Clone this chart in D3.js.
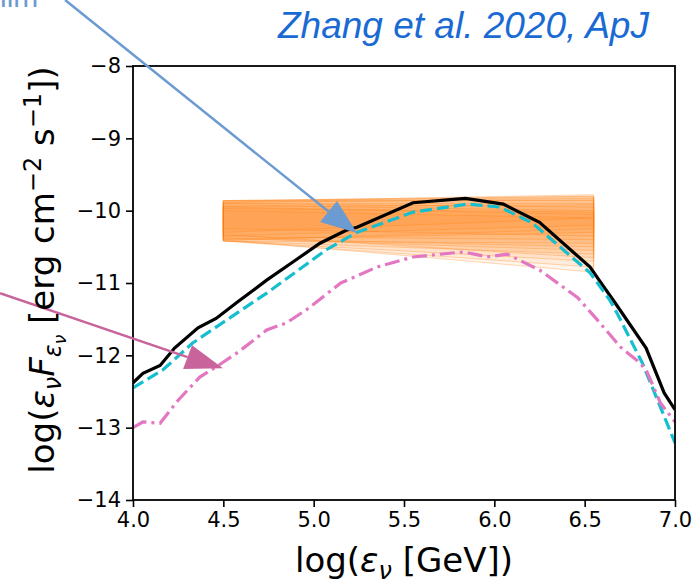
<!DOCTYPE html>
<html>
<head>
<meta charset="utf-8">
<script src="https://cdn.jsdelivr.net/npm/d3@7"></script>
<style>
  body { margin: 0; background: #fff; }
  text { font-family: "DejaVu Sans", sans-serif; }
</style>
</head>
<body>
<div id="chart"></div>
<script>
// axis ticks
var xTicks = [4.0, 4.5, 5.0, 5.5, 6.0, 6.5, 7.0];
var yTicks = [-8, -9, -10, -11, -12, -13, -14];

// black solid curve
var blackX = [4.0, 4.055, 4.15, 4.23, 4.36, 4.46, 4.58, 4.74, 4.885, 5.035, 5.18, 5.24, 5.55, 5.84, 6.05, 6.25, 6.53, 6.58, 6.67, 6.84, 6.94, 7.0];
var blackY = [-12.38, -12.25, -12.14, -11.90, -11.62, -11.49, -11.26, -10.96, -10.71, -10.45, -10.27, -10.23, -9.89, -9.83, -9.91, -10.16, -10.78, -10.96, -11.28, -11.90, -12.52, -12.75];

// cyan dashed curve
var cyanX = [4.0, 4.166, 4.33, 4.46, 4.74, 5.07, 5.24, 5.55, 5.85, 6.03, 6.21, 6.53, 6.64, 6.68, 6.82, 6.92, 7.0];
var cyanY = [-12.45, -12.20, -11.83, -11.61, -11.14, -10.54, -10.30, -10.02, -9.91, -9.95, -10.17, -10.86, -11.24, -11.42, -12.11, -12.72, -13.21];

// pink dash-dot curve
var pinkX = [4.0, 4.055, 4.15, 4.25, 4.37, 4.46, 4.58, 4.74, 4.85, 4.96, 5.15, 5.35, 5.55, 5.83, 5.96, 6.07, 6.25, 6.46, 6.57, 6.70, 6.79, 6.84, 6.92, 7.0];
var pinkY = [-13.0, -12.92, -12.94, -12.62, -12.30, -12.16, -11.96, -11.65, -11.55, -11.37, -11.00, -10.78, -10.64, -10.57, -10.64, -10.60, -10.82, -11.20, -11.51, -11.89, -12.07, -12.20, -12.66, -12.92];

// orange bow-tie: each band spans x = 4.5 .. 6.55
var bandX = [4.5, 6.55];
var bandTopL = [-9.86, -9.88, -9.90, -9.87, -9.92, -9.95, -9.86, -9.90, -9.94, -9.88, -10.00, -9.86, -9.97, -9.89];
var bandBotL = [-10.40, -10.42, -10.38, -10.35, -10.42, -10.40, -10.30, -10.36, -10.42, -10.25, -10.42, -10.38, -10.33, -10.41];
var bandTopR = [-9.80, -9.85, -9.95, -9.78, -10.00, -10.05, -9.82, -9.90, -9.92, -9.80, -10.10, -9.86, -10.02, -9.83];
var bandBotR = [-10.30, -10.45, -10.55, -10.20, -10.70, -10.85, -10.10, -10.40, -10.60, -10.35, -10.78, -10.50, -10.65, -10.25];

var W = 699, H = 588;
var margin = {top: 66, right: 24, bottom: 88, left: 133};
var width = W - margin.left - margin.right,
    height = H - margin.top - margin.bottom;

var svg = d3.select("#chart").append("svg")
    .attr("width", W)
    .attr("height", H);

var g = svg.append("g")
    .attr("transform", "translate(" + margin.left + "," + margin.top + ")");

var x = d3.scaleLinear().domain([4, 7]).range([0, width]);
var y = d3.scaleLinear().domain([-14, -8]).range([height, 0]);

g.append("clipPath").attr("id", "plotclip")
    .append("rect").attr("width", width).attr("height", height);

var plot = g.append("g").attr("clip-path", "url(#plotclip)");

// bow-tie bands
var bands = bandTopL.map(function (d, i) {
    return [
        [bandX[0], bandTopL[i]], [bandX[1], bandTopR[i]],
        [bandX[1], bandBotR[i]], [bandX[0], bandBotL[i]]
    ];
});
plot.selectAll("path.band")
    .data(bands)
    .enter().append("path")
    .attr("class", "band")
    .attr("d", function (d) {
        return "M" + d.map(function (p) { return x(p[0]) + "," + y(p[1]); }).join("L") + "Z";
    })
    .attr("fill", "#ff7f0e")
    .attr("fill-opacity", 0.08)
    .attr("stroke", "#ff7f0e")
    .attr("stroke-opacity", 0.3)
    .attr("stroke-width", 1);

function zip(xs, ys) {
    return xs.map(function (v, i) { return [v, ys[i]]; });
}

var line = d3.line()
    .x(function (d) { return x(d[0]); })
    .y(function (d) { return y(d[1]); });

plot.append("path")
    .datum(zip(blackX, blackY))
    .attr("d", line)
    .attr("fill", "none")
    .attr("stroke", "#000")
    .attr("stroke-width", 3.2);

plot.append("path")
    .datum(zip(cyanX, cyanY))
    .attr("d", line)
    .attr("fill", "none")
    .attr("stroke", "#17becf")
    .attr("stroke-width", 3.2)
    .attr("stroke-dasharray", "12,5");

plot.append("path")
    .datum(zip(pinkX, pinkY))
    .attr("d", line)
    .attr("fill", "none")
    .attr("stroke", "#e377c2")
    .attr("stroke-width", 3.2)
    .attr("stroke-dasharray", "15,5,3,5");

// axes
var xAxis = d3.axisBottom(x).tickValues(xTicks).tickFormat(d3.format(".1f")).tickSizeOuter(0).tickSize(7).tickPadding(5);
var yAxis = d3.axisLeft(y).tickValues(yTicks)
    .tickFormat(function (d) { return "\u2212" + Math.abs(d); })
    .tickSizeOuter(0).tickSize(7).tickPadding(5);

var gx = g.append("g")
    .attr("transform", "translate(0," + height + ")")
    .call(xAxis);
var gy = g.append("g").call(yAxis);

[gx, gy].forEach(function (a) {
    a.select(".domain").remove();
    a.selectAll(".tick line").attr("stroke", "#000").attr("stroke-width", 1.6);
    a.selectAll(".tick text").attr("fill", "#000")
        .style("font-family", "DejaVu Sans").style("font-size", "21px");
});

g.append("rect")
    .attr("width", width).attr("height", height)
    .attr("fill", "none").attr("stroke", "#000").attr("stroke-width", 1.8);

// axis labels
var xl = g.append("text")
    .attr("x", width / 2).attr("y", height + 72)
    .attr("text-anchor", "middle")
    .style("font-size", "34px");
xl.append("tspan").text("log(");
xl.append("tspan").style("font-style", "italic").text("\u03b5");
xl.append("tspan").style("font-style", "italic").style("font-size", "24px").attr("dy", 7).text("\u03bd");
xl.append("tspan").attr("dy", -7).text(" [GeV])");

var yl = svg.append("text")
    .attr("transform", "translate(54," + 270 + ") rotate(-90)")
    .attr("text-anchor", "middle")
    .style("font-size", "34px");
yl.append("tspan").text("log(");
yl.append("tspan").style("font-style", "italic").text("\u03b5");
yl.append("tspan").style("font-style", "italic").style("font-size", "24px").attr("dy", 7).text("\u03bd");
yl.append("tspan").style("font-style", "italic").attr("dy", -7).text("F");
yl.append("tspan").style("font-style", "italic").style("font-size", "24px").attr("dy", 7).text("\u03b5");
yl.append("tspan").style("font-style", "italic").style("font-size", "17px").attr("dy", 5).text("\u03bd");
yl.append("tspan").attr("dy", -12).text(" [erg cm");
yl.append("tspan").style("font-size", "24px").attr("dy", -13).text("\u22122");
yl.append("tspan").attr("dy", 13).text(" s");
yl.append("tspan").style("font-size", "24px").attr("dy", -13).text("\u22121");
yl.append("tspan").attr("dy", 13).text("])");

// annotation arrows (data coordinates)
var arrows = [
    {color: "#6c9bd2", from: [3.624, -7.087], tip: [5.240, -10.31], c1: [5.035, -10.158], c2: [5.129, -9.867]},
    {color: "#c8649b", from: [3.264, -11.14], tip: [4.498, -12.177], c1: [4.327, -11.859], c2: [4.277, -12.19]}
];
arrows.forEach(function (a) {
    var mid = [(a.c1[0] + a.c2[0]) / 2, (a.c1[1] + a.c2[1]) / 2];
    g.append("line")
        .attr("x1", x(a.from[0])).attr("y1", y(a.from[1]))
        .attr("x2", x(mid[0])).attr("y2", y(mid[1]))
        .attr("stroke", a.color).attr("stroke-width", 2.5);
    g.append("path")
        .attr("d", "M" + x(a.tip[0]) + "," + y(a.tip[1]) +
            "L" + x(a.c1[0]) + "," + y(a.c1[1]) +
            "L" + x(a.c2[0]) + "," + y(a.c2[1]) + "Z")
        .attr("fill", a.color);
});

// title text
svg.append("text")
    .attr("x", 278).attr("y", 38)
    .style("font-family", "Liberation Sans, Arial, sans-serif")
    .style("font-style", "italic")
    .style("font-size", "37px")
    .attr("fill", "#1a6ad4")
    .text("Zhang et al. 2020, ApJ");

// cut-off text at the top left
svg.append("text")
    .attr("x", 0).attr("y", 7)
    .style("font-family", "Liberation Sans, Arial, sans-serif")
    .style("font-size", "30px")
    .attr("fill", "#6c9bd2")
    .text("lim");
</script>
</body>
</html>
